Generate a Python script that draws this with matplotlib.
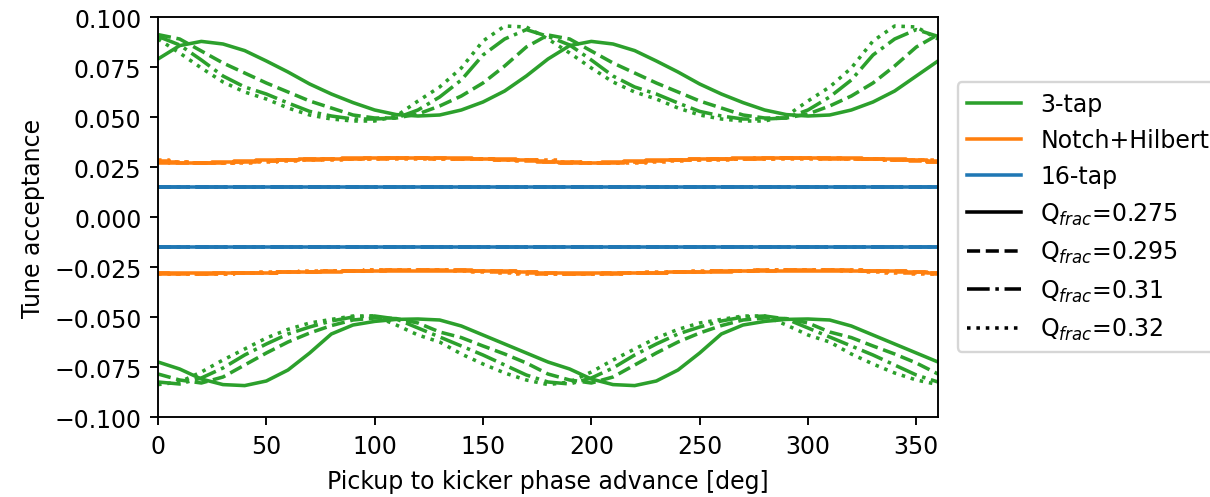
import matplotlib
matplotlib.use("Agg")
import matplotlib.pyplot as plt
from matplotlib.lines import Line2D

phase = list(range(0, 361, 10))

q_labels = ["0.275", "0.295", "0.31", "0.32"]
q_styles = ["-", "--", "-.", ":"]

# 3-tap, upper bound
tap3_up_275 = [0.079, 0.0857, 0.0878, 0.0865, 0.0832, 0.078, 0.0725, 0.0665, 0.0615, 0.0572,
               0.0535, 0.0512, 0.0505, 0.051, 0.0535, 0.0575, 0.063, 0.0705, 0.079,
               0.0857, 0.0878, 0.0865, 0.0832, 0.078, 0.0725, 0.0665, 0.0615, 0.0572,
               0.0535, 0.0512, 0.0505, 0.051, 0.0535, 0.0575, 0.063, 0.0705, 0.078]
tap3_up_295 = [0.0912, 0.089, 0.083, 0.077, 0.072, 0.067, 0.0625, 0.058, 0.0545, 0.051,
               0.0495, 0.0495, 0.0515, 0.0555, 0.0605, 0.067, 0.0755, 0.085, 0.091,
               0.089, 0.083, 0.077, 0.072, 0.067, 0.0625, 0.058, 0.0545, 0.051,
               0.0495, 0.0495, 0.0515, 0.0555, 0.0605, 0.067, 0.0755, 0.085, 0.0912]
tap3_up_31 = [0.0903, 0.086, 0.0785, 0.0705, 0.065, 0.0615, 0.057, 0.0528, 0.0505, 0.049,
              0.049, 0.0495, 0.0535, 0.060, 0.0685, 0.081, 0.089, 0.0937, 0.0903,
              0.086, 0.0785, 0.0705, 0.065, 0.0615, 0.057, 0.0528, 0.0505, 0.049,
              0.049, 0.0495, 0.0535, 0.060, 0.0685, 0.081, 0.089, 0.0937, 0.0903]
tap3_up_32 = [0.089, 0.082, 0.0745, 0.0675, 0.0625, 0.059, 0.0545, 0.051, 0.049, 0.048,
              0.048, 0.0505, 0.058, 0.065, 0.0745, 0.088, 0.0955, 0.095, 0.089,
              0.082, 0.0745, 0.0675, 0.0625, 0.059, 0.0545, 0.051, 0.049, 0.048,
              0.048, 0.0505, 0.058, 0.065, 0.0745, 0.088, 0.0955, 0.095, 0.089]

# 3-tap, lower bound
tap3_lo_275 = [-0.0725, -0.076, -0.081, -0.0838, -0.0843, -0.082, -0.0765, -0.068, -0.0585, -0.054,
               -0.0522, -0.0512, -0.051, -0.0515, -0.0545, -0.059, -0.0635, -0.068, -0.0725,
               -0.076, -0.081, -0.0838, -0.0843, -0.082, -0.0765, -0.068, -0.0585, -0.054,
               -0.0522, -0.0512, -0.051, -0.0515, -0.0545, -0.059, -0.0635, -0.068, -0.0725]
tap3_lo_295 = [-0.0785, -0.0815, -0.083, -0.080, -0.074, -0.068, -0.0625, -0.058, -0.0543, -0.0515,
               -0.0505, -0.0508, -0.053, -0.0575, -0.0603, -0.0645, -0.0685, -0.073, -0.0785,
               -0.0815, -0.083, -0.080, -0.074, -0.068, -0.0625, -0.058, -0.0543, -0.0515,
               -0.0505, -0.0508, -0.053, -0.0575, -0.0603, -0.0645, -0.0685, -0.073, -0.0785]
tap3_lo_31 = [-0.0825, -0.0835, -0.0805, -0.0755, -0.069, -0.0635, -0.0585, -0.055, -0.052, -0.050,
              -0.0495, -0.051, -0.0555, -0.060, -0.0645, -0.069, -0.074, -0.079, -0.0825,
              -0.0835, -0.0805, -0.0755, -0.069, -0.0635, -0.0585, -0.055, -0.052, -0.050,
              -0.0495, -0.051, -0.0555, -0.060, -0.0645, -0.069, -0.074, -0.079, -0.0825]
tap3_lo_32 = [-0.0838, -0.0825, -0.0775, -0.0715, -0.066, -0.0605, -0.0562, -0.053, -0.0512, -0.0495,
              -0.0495, -0.054, -0.059, -0.0625, -0.0685, -0.0735, -0.078, -0.0815, -0.0838,
              -0.0825, -0.0775, -0.0715, -0.066, -0.0605, -0.0562, -0.053, -0.0512, -0.0495,
              -0.0495, -0.054, -0.059, -0.0625, -0.0685, -0.0735, -0.078, -0.0815, -0.0838]

# Notch+Hilbert, upper bound
nh_up_275 = [0.0272, 0.0270, 0.0271, 0.0275, 0.0280, 0.0284, 0.0287, 0.0289, 0.0291, 0.0293,
             0.0294, 0.0295, 0.0295, 0.0295, 0.0294, 0.0292, 0.0289, 0.0284, 0.0276,
             0.0270, 0.0271, 0.0275, 0.0280, 0.0284, 0.0287, 0.0289, 0.0291, 0.0293,
             0.0294, 0.0295, 0.0295, 0.0295, 0.0294, 0.0292, 0.0289, 0.0284, 0.0274]
nh_up_295 = [0.0276, 0.0272, 0.0270, 0.0272, 0.0276, 0.0281, 0.0285, 0.0288, 0.0290, 0.0292,
             0.0293, 0.0294, 0.0295, 0.0294, 0.0292, 0.0289, 0.0285, 0.0280, 0.0276,
             0.0272, 0.0270, 0.0272, 0.0276, 0.0281, 0.0285, 0.0288, 0.0290, 0.0292,
             0.0293, 0.0294, 0.0295, 0.0294, 0.0292, 0.0289, 0.0285, 0.0280, 0.0276]
nh_up_31 = [0.0280, 0.0274, 0.0270, 0.0270, 0.0273, 0.0278, 0.0283, 0.0286, 0.0289, 0.0291,
            0.0292, 0.0293, 0.0293, 0.0292, 0.0290, 0.0288, 0.0286, 0.0283, 0.0280,
            0.0274, 0.0270, 0.0270, 0.0273, 0.0278, 0.0283, 0.0286, 0.0289, 0.0291,
            0.0292, 0.0293, 0.0293, 0.0292, 0.0290, 0.0288, 0.0286, 0.0283, 0.0280]
nh_up_32 = [0.0283, 0.0277, 0.0271, 0.0268, 0.0270, 0.0275, 0.0280, 0.0284, 0.0287, 0.0289,
            0.0290, 0.0291, 0.0291, 0.0290, 0.0289, 0.0288, 0.0287, 0.0285, 0.0283,
            0.0277, 0.0271, 0.0268, 0.0270, 0.0275, 0.0280, 0.0284, 0.0287, 0.0289,
            0.0290, 0.0291, 0.0291, 0.0290, 0.0289, 0.0288, 0.0287, 0.0285, 0.0283]

# Notch+Hilbert, lower bound
nh_lo_275 = [-0.0278, -0.0280, -0.0281, -0.0281, -0.0280, -0.0279, -0.0277, -0.0275, -0.0273, -0.0271,
             -0.0270, -0.0269, -0.0268, -0.0268, -0.0268, -0.0269, -0.0271, -0.0274, -0.0278,
             -0.0280, -0.0281, -0.0281, -0.0280, -0.0279, -0.0277, -0.0275, -0.0273, -0.0271,
             -0.0270, -0.0269, -0.0268, -0.0268, -0.0268, -0.0269, -0.0271, -0.0274, -0.0278]
nh_lo_295 = [-0.0281, -0.0283, -0.0283, -0.0282, -0.0281, -0.0279, -0.0277, -0.0275, -0.0272, -0.0270,
             -0.0268, -0.0267, -0.0266, -0.0266, -0.0267, -0.0269, -0.0272, -0.0277, -0.0281,
             -0.0283, -0.0283, -0.0282, -0.0281, -0.0279, -0.0277, -0.0275, -0.0272, -0.0270,
             -0.0268, -0.0267, -0.0266, -0.0266, -0.0267, -0.0269, -0.0272, -0.0277, -0.0281]
nh_lo_31 = [-0.0284, -0.0285, -0.0284, -0.0283, -0.0281, -0.0278, -0.0275, -0.0273, -0.0271, -0.0269,
            -0.0267, -0.0265, -0.0264, -0.0265, -0.0267, -0.0271, -0.0276, -0.0281, -0.0284,
            -0.0285, -0.0284, -0.0283, -0.0281, -0.0278, -0.0275, -0.0273, -0.0271, -0.0269,
            -0.0267, -0.0265, -0.0264, -0.0265, -0.0267, -0.0271, -0.0276, -0.0281, -0.0284]
nh_lo_32 = [-0.0286, -0.0286, -0.0285, -0.0283, -0.0280, -0.0277, -0.0274, -0.0272, -0.0270, -0.0268,
            -0.0265, -0.0263, -0.0264, -0.0266, -0.0269, -0.0274, -0.0279, -0.0284, -0.0286,
            -0.0286, -0.0285, -0.0283, -0.0280, -0.0277, -0.0274, -0.0272, -0.0270, -0.0268,
            -0.0265, -0.0263, -0.0264, -0.0266, -0.0269, -0.0274, -0.0279, -0.0284, -0.0286]

# 16-tap (flat)
tap16_phase = [0, 360]
tap16_up = [0.0152, 0.0152]
tap16_lo = [-0.0152, -0.0152]

GREEN, ORANGE, BLUE = "#2ca02c", "#ff7f0e", "#1f77b4"

fig = plt.figure(figsize=(1210 / 170, 498 / 170), dpi=170)
ax = fig.add_axes([158 / 1210, 1 - 418 / 498, 780 / 1210, 400 / 498])

tap3_up = [tap3_up_275, tap3_up_295, tap3_up_31, tap3_up_32]
tap3_lo = [tap3_lo_275, tap3_lo_295, tap3_lo_31, tap3_lo_32]
nh_up = [nh_up_275, nh_up_295, nh_up_31, nh_up_32]
nh_lo = [nh_lo_275, nh_lo_295, nh_lo_31, nh_lo_32]

for i, ls in enumerate(q_styles):
    ax.plot(tap16_phase, tap16_up, color=BLUE, ls=ls, lw=1.5)
    ax.plot(tap16_phase, tap16_lo, color=BLUE, ls=ls, lw=1.5)
for i, ls in enumerate(q_styles):
    ax.plot(phase, nh_up[i], color=ORANGE, ls=ls, lw=1.5, drawstyle="steps-mid")
    ax.plot(phase, nh_lo[i], color=ORANGE, ls=ls, lw=1.5, drawstyle="steps-mid")
for i, ls in enumerate(q_styles):
    ax.plot(phase, tap3_up[i], color=GREEN, ls=ls, lw=1.5)
    ax.plot(phase, tap3_lo[i], color=GREEN, ls=ls, lw=1.5)

ax.set_xlim(0, 360)
ax.set_ylim(-0.1, 0.1)
ax.set_xticks(range(0, 351, 50))
ax.set_yticks([-0.1, -0.075, -0.05, -0.025, 0.0, 0.025, 0.05, 0.075, 0.1])
ax.yaxis.set_major_formatter(matplotlib.ticker.FuncFormatter(
    lambda v, p: ("%.3f" % v).replace("-", "\u2212")))
ax.set_xlabel("Pickup to kicker phase advance [deg]", labelpad=5)
ax.set_ylabel("Tune acceptance")

handles = [Line2D([], [], color=GREEN, lw=1.5),
           Line2D([], [], color=ORANGE, lw=1.5),
           Line2D([], [], color=BLUE, lw=1.5)]
labels = ["3-tap", "Notch+Hilbert", "16-tap"]
for ls, q in zip(q_styles, q_labels):
    handles.append(Line2D([], [], color="black", ls=ls, lw=1.5))
    labels.append(r"Q$_{frac}$=" + q)
ax.legend(handles, labels, loc="center left", bbox_to_anchor=(1.01, 0.5),
          handlelength=2.3, labelspacing=0.52)

fig.savefig("out.png", dpi=170)
